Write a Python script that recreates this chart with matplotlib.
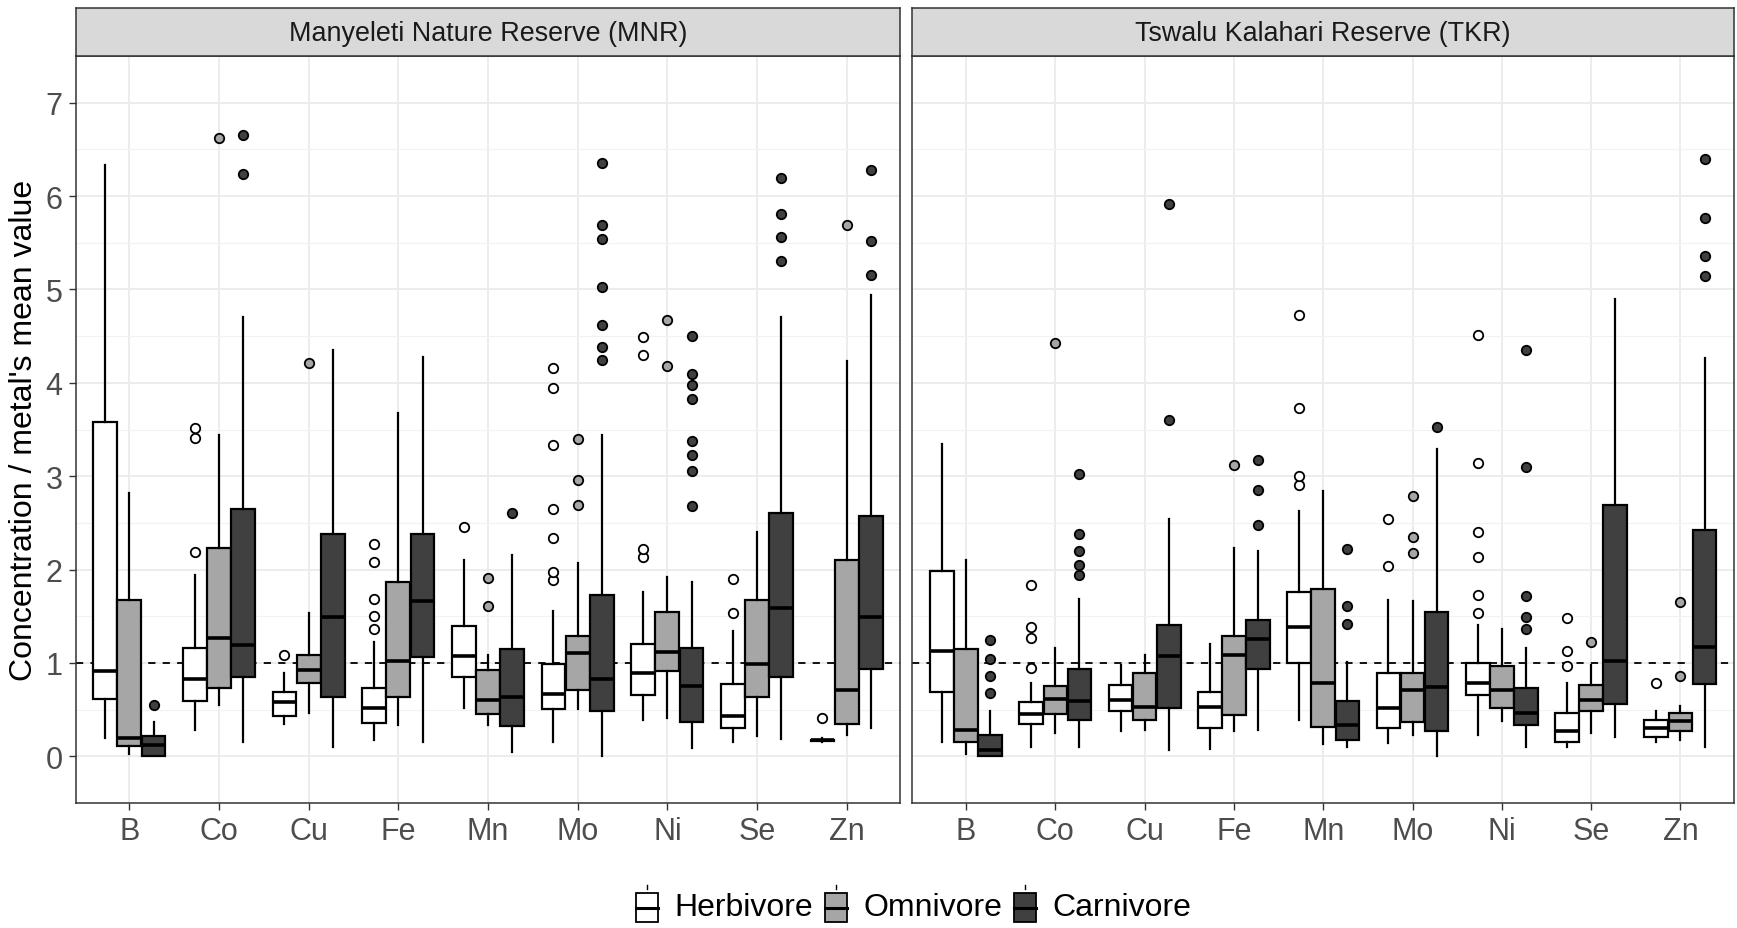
''' Boxplots of metal concentration relative to mean, by diet and reserve '''

import matplotlib
matplotlib.use('Agg')
import matplotlib.pyplot as plt
from matplotlib.patches import Patch, Rectangle
from matplotlib.lines import Line2D
from matplotlib.legend_handler import HandlerBase

plt.rcParams['font.family'] = ['Liberation Sans', 'DejaVu Sans']

METALS = ['B', 'Co', 'Cu', 'Fe', 'Mn', 'Mo', 'Ni', 'Se', 'Zn']
DIETS = ['Herbivore', 'Omnivore', 'Carnivore']
SITES = ['Manyeleti Nature Reserve (MNR)', 'Tswalu Kalahari Reserve (TKR)']
DIET_COLOR = ['#FFFFFF', '#A6A6A6', '#404040']

# rows: Herbivore, Omnivore, Carnivore ; columns: METALS
MNR_LO = [[0.20, 0.28, 0.35, 0.17, 0.52, 0.155, 0.39, 0.155, 0.15],
          [0.03, 0.545, 0.465, 0.33, 0.33, 0.505, 0.405, 0.22, 0.23],
          [0.0, 0.15, 0.10, 0.15, 0.05, 0.0, 0.09, 0.19, 0.305]]
MNR_Q1 = [[0.615, 0.595, 0.43, 0.355, 0.85, 0.505, 0.655, 0.305, 0.16],
          [0.115, 0.73, 0.78, 0.635, 0.455, 0.705, 0.915, 0.63, 0.345],
          [0.0, 0.85, 0.635, 1.065, 0.32, 0.48, 0.365, 0.85, 0.93]]
MNR_MED = [[0.915, 0.83, 0.58, 0.52, 1.07, 0.665, 0.89, 0.43, 0.17],
           [0.20, 1.265, 0.925, 1.02, 0.60, 1.105, 1.12, 0.99, 0.715],
           [0.125, 1.19, 1.495, 1.66, 0.63, 0.83, 0.75, 1.59, 1.49]]
MNR_Q3 = [[3.58, 1.165, 0.69, 0.73, 1.40, 0.99, 1.205, 0.775, 0.175],
          [1.67, 2.23, 1.09, 1.87, 0.92, 1.29, 1.545, 1.67, 2.105],
          [0.215, 2.645, 2.38, 2.38, 1.15, 1.73, 1.165, 2.61, 2.575]]
MNR_HI = [[6.33, 1.945, 0.89, 1.22, 2.105, 1.555, 1.765, 1.345, 0.20],
          [2.82, 3.445, 1.53, 3.68, 1.08, 2.065, 1.92, 2.405, 4.23],
          [0.37, 4.705, 4.355, 4.28, 2.155, 3.445, 1.865, 4.705, 4.94]]
MNR_OUT = [[[], [2.185, 3.405, 3.52], [1.085], [1.36, 1.5, 1.69, 2.08, 2.275],
            [2.46], [1.89, 1.97, 2.34, 2.645, 3.33, 3.94, 4.155],
            [2.13, 2.22, 4.3, 4.49], [1.53, 1.895], [0.41]],
           [[], [6.62], [4.215], [], [1.615, 1.91], [2.69, 2.955, 3.4],
            [4.18, 4.67], [], [5.695]],
           [[0.545], [6.24, 6.65], [], [], [2.61],
            [4.245, 4.38, 4.62, 5.03, 5.545, 5.69, 6.355],
            [2.68, 3.055, 3.23, 3.38, 3.825, 3.98, 4.09, 4.5],
            [5.305, 5.565, 5.805, 6.195], [5.155, 5.52, 6.28]]]

TKR_LO = [[0.155, 0.105, 0.27, 0.08, 0.39, 0.145, 0.23, 0.10, 0.15],
          [0.03, 0.255, 0.28, 0.27, 0.13, 0.23, 0.38, 0.255, 0.18],
          [0.0, 0.105, 0.065, 0.28, 0.10, 0.0, 0.105, 0.205, 0.105]]
TKR_Q1 = [[0.69, 0.345, 0.48, 0.305, 0.995, 0.305, 0.655, 0.155, 0.205],
          [0.15, 0.455, 0.39, 0.44, 0.315, 0.365, 0.52, 0.48, 0.27],
          [0.0, 0.39, 0.52, 0.93, 0.17, 0.27, 0.33, 0.555, 0.77]]
TKR_MED = [[1.13, 0.455, 0.605, 0.53, 1.38, 0.52, 0.79, 0.27, 0.305],
           [0.28, 0.615, 0.53, 1.08, 0.78, 0.715, 0.705, 0.605, 0.38],
           [0.065, 0.595, 1.07, 1.255, 0.33, 0.74, 0.465, 1.02, 1.17]]
TKR_Q3 = [[1.98, 0.58, 0.765, 0.69, 1.755, 0.89, 0.995, 0.465, 0.39],
          [1.15, 0.755, 0.89, 1.29, 1.795, 0.89, 0.965, 0.765, 0.465],
          [0.23, 0.93, 1.405, 1.455, 0.59, 1.55, 0.73, 2.69, 2.42]]
TKR_HI = [[3.345, 0.78, 0.98, 1.205, 2.63, 1.67, 1.405, 0.79, 0.49],
          [2.105, 1.165, 1.08, 2.23, 2.845, 1.665, 1.365, 0.98, 0.54],
          [0.48, 1.68, 2.545, 2.195, 1.005, 3.29, 1.155, 4.895, 4.27]]
TKR_OUT = [[[], [0.95, 1.265, 1.38, 1.83], [], [], [2.91, 3.0, 3.73, 4.725],
            [2.04, 2.54], [1.54, 1.73, 2.13, 2.4, 3.14, 4.51],
            [0.97, 1.13, 1.48], [0.79]],
           [[], [4.425], [], [3.115], [], [2.18, 2.35, 2.79], [], [1.22],
            [0.855, 1.65]],
           [[0.68, 0.855, 1.045, 1.245], [1.94, 2.05, 2.2, 2.385, 3.02],
            [3.6, 5.915], [2.48, 2.855, 3.175], [1.415, 1.605, 2.225],
            [3.53], [1.365, 1.49, 1.72, 3.1, 4.35], [],
            [5.145, 5.36, 5.77, 6.395]]]

SITE_DATA = [(MNR_LO, MNR_Q1, MNR_MED, MNR_Q3, MNR_HI, MNR_OUT),
             (TKR_LO, TKR_Q1, TKR_MED, TKR_Q3, TKR_HI, TKR_OUT)]

OFFSETS = [-0.27, 0.0, 0.27]
BOX_W = 0.265
W, H = 1737, 929


class BoxKey(HandlerBase):
    def create_artists(self, legend, orig_handle, xdescent, ydescent,
                       width, height, fontsize, trans):
        x0 = -xdescent
        y0 = -ydescent - height * 0.2
        h = height * 1.15
        rect = Rectangle((x0, y0), width, h, facecolor=orig_handle.get_facecolor(),
                         edgecolor='black', lw=1.3, transform=trans)
        med = Line2D([x0, x0 + width], [y0 + h / 2] * 2, color='black',
                     lw=2.2, transform=trans)
        stub = Line2D([x0 + width / 2] * 2, [y0 + h + 3, y0 + h + 6],
                      color='black', lw=1, transform=trans)
        return [rect, med, stub]


def draw_panel(ax, data):
    lo, q1, med, q3, hi, out = data
    ax.axhline(1.0, color='black', ls=(0, (4, 4)), lw=1.3, zorder=1)
    for d in range(3):
        stats = []
        for m in range(len(METALS)):
            stats.append({'med': med[d][m], 'q1': q1[d][m], 'q3': q3[d][m],
                          'whislo': lo[d][m], 'whishi': hi[d][m],
                          'fliers': out[d][m]})
        pos = [m + 1 + OFFSETS[d] for m in range(len(METALS))]
        ax.bxp(stats, positions=pos, widths=BOX_W, patch_artist=True,
               showcaps=False, manage_ticks=False, zorder=3,
               boxprops=dict(facecolor=DIET_COLOR[d], edgecolor='black', lw=1.6),
               medianprops=dict(color='black', lw=2.6),
               whiskerprops=dict(color='black', lw=1.6),
               flierprops=dict(marker='o', markerfacecolor=DIET_COLOR[d],
                               markeredgecolor='black', markersize=6.8,
                               markeredgewidth=1.3))
    ax.set_xlim(0.4, 9.6)
    ax.set_ylim(-0.343, 7.353)
    ax.set_xticks(range(1, 10))
    ax.set_xticklabels(METALS)
    ax.set_yticks(range(0, 8))
    ax.set_yticks([i + 0.5 for i in range(-1, 8)], minor=True)
    ax.grid(which='major', color='#EBEBEB', lw=1.3, zorder=0)
    ax.grid(which='minor', axis='y', color='#F2F2F2', lw=0.8, zorder=0)
    ax.set_axisbelow(True)
    ax.tick_params(which='minor', length=0)
    ax.tick_params(which='major', labelsize=22, labelcolor='#4D4D4D',
                   color='#333333', length=4.8, width=1, pad=4.5)
    for s in ax.spines.values():
        s.set_color('#333333')
        s.set_linewidth(1.1)


def main():
    fig = plt.figure(figsize=(W / 100, H / 100), dpi=100)
    bottom, top = 1 - 804 / H, 1 - 57 / H
    panels = [(75.5, 900.5), (912.5, 1734)]
    for i, (x0, x1) in enumerate(panels):
        ax = fig.add_axes([x0 / W, bottom, (x1 - x0) / W, top - bottom])
        draw_panel(ax, SITE_DATA[i])
        if i == 1:
            ax.tick_params(axis='y', left=False, labelleft=False)
        sax = fig.add_axes([x0 / W, top, (x1 - x0) / W, 1 - 8.5 / H - top])
        sax.set_facecolor('#D9D9D9')
        sax.set_xticks([])
        sax.set_yticks([])
        for s in sax.spines.values():
            s.set_color('#333333')
            s.set_linewidth(1.1)
        sax.text(0.5, 0.48, SITES[i], ha='center', va='center', fontsize=19.4,
                 color='#1A1A1A', transform=sax.transAxes)

    fig.text(24 / W, (bottom + top) / 2, "Concentration / metal's mean value",
             rotation=90, ha='center', va='center', fontsize=23)

    handles = [Patch(facecolor=c, edgecolor='black', label=d)
               for d, c in zip(DIETS, DIET_COLOR)]
    fig.legend(handles=handles, loc='center', bbox_to_anchor=(0.526, 0.0225),
               ncol=3, frameon=False, fontsize=23, handlelength=0.69,
               handleheight=0.85, handletextpad=0.5, columnspacing=0.38,
               borderpad=0, handler_map={Patch: BoxKey()})
    fig.savefig('out.png', dpi=100)


if __name__ == '__main__':
    main()
